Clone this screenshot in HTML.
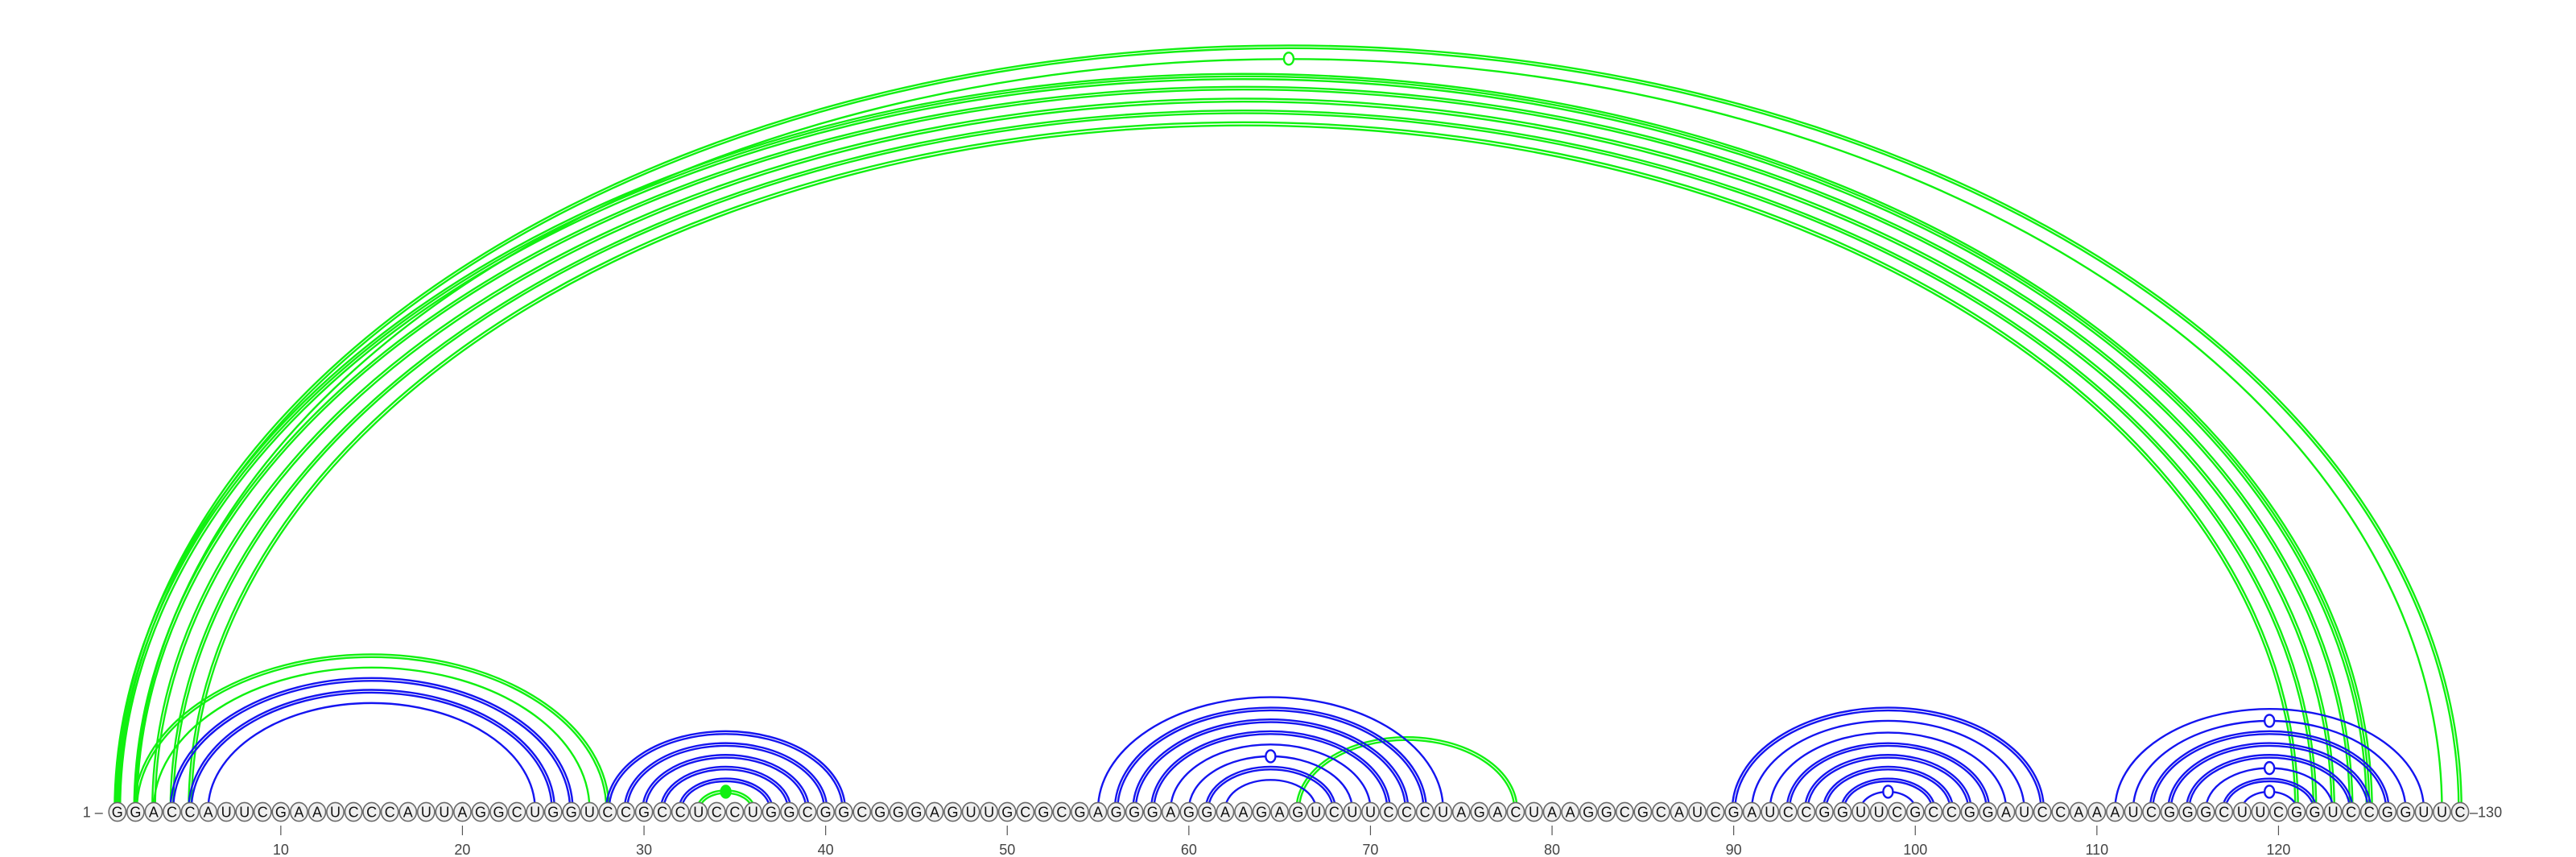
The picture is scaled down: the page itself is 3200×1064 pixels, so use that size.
<!DOCTYPE html>
<html><head><meta charset="utf-8"><title>RNA arc diagram</title>
<style>
html,body{margin:0;padding:0;background:#fff;}
svg{display:block;}
text{font-family:"Liberation Sans",sans-serif;}
</style></head>
<body>
<svg id="chart" width="3200" height="1064" viewBox="0 0 3200 1064" xmlns="http://www.w3.org/2000/svg">
<g id="arcs"></g>
<g id="bases"></g>
<g id="axis"></g>
</svg>
<script>
// ---- data ----
const sequence = "GGACCAUUCGAAUCCCAUUAGGCUGGUCCGCCUCCUGGCGGCGGGAGUUGCGCGAGGGAGGAAGAGUCUUCCCUAGACUAAGGCGCAUCGAUCCGGUUCGCCGGAUCCAAAUCGGGCUUCGGUCCGGUUC";
const tickPositions = [10,20,30,40,50,60,70,80,90,100,110,120];
const tickLabels = ["10","20","30","40","50","60","70","80","90","100","110","120"];
// blue (lower structure) base pairs
const blueOpen  = [4,5,6, 28,29,30,31,32, 55,56,57,58,59,60,61,62, 90,91,92,93,94,95,96,97, 111,112,113,114,115,116,117,118];
const blueClose = [26,25,24, 41,40,39,38,37, 74,73,72,71,70,69,68,67, 107,106,105,104,103,102,101,100, 128,127,126,125,124,123,122,121];
const blueCount = [2,2,1, 2,2,2,2,2, 1,2,2,2,1,1,2,1, 2,1,1,2,2,2,2,1, 1,1,2,2,2,1,2,1];
const blueWobble = [0,0,0, 0,0,0,0,0, 0,0,0,0,0,1,0,0, 0,0,0,0,0,0,0,1, 0,1,0,0,0,1,0,1];
// green (alternative structure) base pairs
const greenOpen  = [1,2,1,2,3,4,5, 2,3, 33, 66];
const greenClose = [130,129,125,124,123,122,121, 28,27, 36, 78];
const greenCount = [2,1,3,2,2,2,2, 2,1, 2, 2];
const greenWobble = [0,1,0,0,0,0,0, 0,0, 2, 0];

// ---- scales ----
const X0 = 145.8, DX = 22.56, BASE_Y = 1008, ARC_Y = 1005, HK = 7.34;
function xPos(i){ return X0 + (i-1)*DX; }
function arcH(span){ return HK*span; }

const NS = "http://www.w3.org/2000/svg";
const arcsG = document.getElementById('arcs');
const basesG = document.getElementById('bases');
const axisG = document.getElementById('axis');

function drawArcs(opens, closes, counts, wob, color, prefix){
  for(let k=0;k<opens.length;k++){
    const a=opens[k], b=closes[k], n=counts[k];
    const x1=xPos(a), x2=xPos(b);
    const cx=(x1+x2)/2, rx=(x2-x1)/2, ry=arcH(b-a);
    const g=document.createElementNS(NS,'g');
    
    
    const gap = 3.4;
    for(let m=0;m<n;m++){
      const d = (m-(n-1)/2)*gap;
      const p=document.createElementNS(NS,'path');
      p.setAttribute('d','M'+(cx-rx-d)+','+ARC_Y+' A'+(rx+d)+','+(ry+d)+' 0 0 1 '+(cx+rx+d)+','+ARC_Y);
      p.setAttribute('fill','none');
      p.setAttribute('stroke',color);
      p.setAttribute('stroke-width','2.4');
      
      
      g.appendChild(p);
    }
    if(wob[k]){
      const c=document.createElementNS(NS,'ellipse');
      c.setAttribute('cx',cx);
      c.setAttribute('cy',ARC_Y-ry);
      c.setAttribute('rx',6);
      c.setAttribute('ry',7.5);
      c.setAttribute('fill', wob[k]===2 ? color : '#fff');
      c.setAttribute('stroke',color);
      c.setAttribute('stroke-width','2.4');
      
      
      g.appendChild(c);
    }
    arcsG.appendChild(g);
  }
}
drawArcs(greenOpen, greenClose, greenCount, greenWobble, '#10f010', 'green');
drawArcs(blueOpen, blueClose, blueCount, blueWobble, '#1414f0', 'blue');

// bases
for(let i=1;i<=sequence.length;i++){
  const g=document.createElementNS(NS,'g');
  
  
  const e=document.createElementNS(NS,'ellipse');
  e.setAttribute('cx',xPos(i)); e.setAttribute('cy',BASE_Y);
  e.setAttribute('rx',10.6); e.setAttribute('ry',11.6);
  e.setAttribute('fill','#f0f0f0'); e.setAttribute('stroke','#6a6a6a'); e.setAttribute('stroke-width','1.6');
  
  
  g.appendChild(e);
  const t=document.createElementNS(NS,'text');
  t.setAttribute('x',xPos(i)); t.setAttribute('y',BASE_Y+6.5);
  t.setAttribute('text-anchor','middle'); t.setAttribute('font-size','18');
  t.setAttribute('fill','#111');
  
  
  t.textContent=sequence[i-1];
  g.appendChild(t);
  basesG.appendChild(g);
}

// ticks
for(let k=0;k<tickPositions.length;k++){
  const x=xPos(tickPositions[k]);
  const l=document.createElementNS(NS,'line');
  l.setAttribute('x1',x); l.setAttribute('x2',x); l.setAttribute('y1',1025); l.setAttribute('y2',1037);
  l.setAttribute('stroke','#555'); l.setAttribute('stroke-width','1.2');
  
  
  axisG.appendChild(l);
  const t=document.createElementNS(NS,'text');
  t.setAttribute('x',x); t.setAttribute('y',1061);
  t.setAttribute('text-anchor','middle'); t.setAttribute('font-size','18'); t.setAttribute('fill','#444');
  
  
  t.textContent=tickLabels[k];
  axisG.appendChild(t);
}
// ends
const n = sequence.length;
const sL=document.createElementNS(NS,'text');
sL.setAttribute('x',xPos(1)-18); sL.setAttribute('y',BASE_Y+6.5);
sL.setAttribute('text-anchor','end'); sL.setAttribute('font-size','18'); sL.setAttribute('fill','#444');


sL.textContent='1 \u2013';
axisG.appendChild(sL);
const eL=document.createElementNS(NS,'text');
eL.setAttribute('x',xPos(n)+12); eL.setAttribute('y',BASE_Y+6.5);
eL.setAttribute('text-anchor','start'); eL.setAttribute('font-size','18'); eL.setAttribute('fill','#444');


eL.textContent='\u2013'+n;
axisG.appendChild(eL);
</script>
</body></html>
